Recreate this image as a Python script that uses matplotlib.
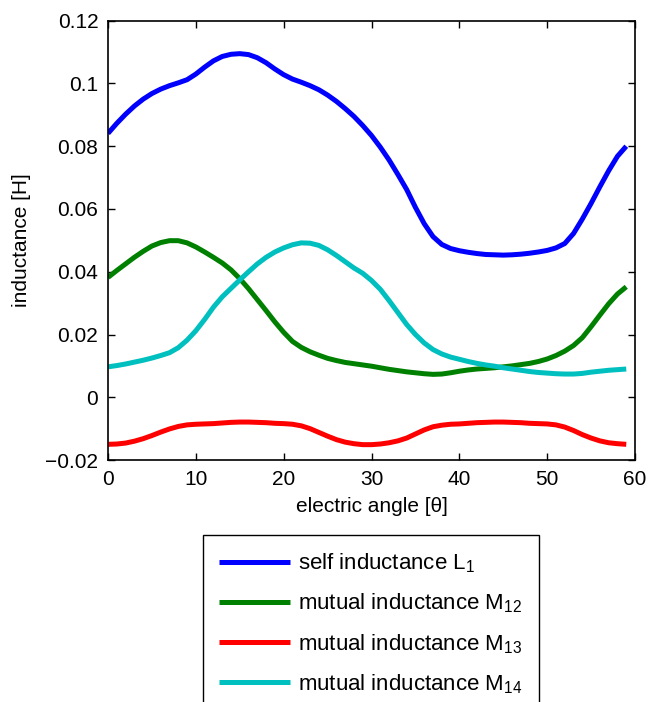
import matplotlib
matplotlib.use("Agg")
import matplotlib.pyplot as plt

plt.rcParams['font.family'] = ['Liberation Sans', 'DejaVu Sans']
plt.rcParams['mathtext.fontset'] = 'custom'
plt.rcParams['mathtext.rm'] = 'Liberation Sans'
plt.rcParams['mathtext.it'] = 'Liberation Sans'

angle = list(range(60))

L1 = [0.0841, 0.0873, 0.0902, 0.0928, 0.0950, 0.0968, 0.0982, 0.0993, 0.1002, 0.1012,
      0.1030, 0.1052, 0.1072, 0.1086, 0.1093, 0.1095, 0.1092, 0.1082, 0.1066, 0.1046,
      0.1028, 0.1014, 0.1004, 0.0993, 0.0980, 0.0963, 0.0943, 0.0920, 0.0895, 0.0866,
      0.0834, 0.0797, 0.0756, 0.0710, 0.0662, 0.0605, 0.0553, 0.0512, 0.0487, 0.0474,
      0.0467, 0.0462, 0.0458, 0.0455, 0.0454, 0.0453, 0.0454, 0.0456, 0.0459, 0.0463,
      0.0468, 0.0476, 0.0490, 0.0522, 0.0568, 0.0618, 0.0671, 0.0722, 0.0768, 0.0800]

M12 = [0.0382, 0.0404, 0.0425, 0.0446, 0.0465, 0.0482, 0.0493, 0.0499, 0.0499, 0.0492,
       0.0479, 0.0463, 0.0446, 0.0428, 0.0406, 0.0378, 0.0346, 0.0311, 0.0276, 0.0240,
       0.0207, 0.0178, 0.0159, 0.0145, 0.0134, 0.0124, 0.0117, 0.0111, 0.0107, 0.0103,
       0.0099, 0.0094, 0.0089, 0.0085, 0.0081, 0.0078, 0.0075, 0.0073, 0.0074, 0.0078,
       0.0083, 0.0087, 0.0090, 0.0092, 0.0094, 0.0097, 0.0100, 0.0104, 0.0108, 0.0114,
       0.0122, 0.0133, 0.0147, 0.0165, 0.0190, 0.0225, 0.0262, 0.0298, 0.0329, 0.0352]

M13 = [-0.0150, -0.0149, -0.0146, -0.0140, -0.0132, -0.0122, -0.0111, -0.0101, -0.0093, -0.0088,
       -0.0086, -0.0085, -0.0084, -0.0082, -0.0080, -0.0079, -0.0079, -0.0080, -0.0081, -0.0083,
       -0.0084, -0.0086, -0.0091, -0.0100, -0.0112, -0.0124, -0.0135, -0.0143, -0.0148, -0.0151,
       -0.0151, -0.0149, -0.0145, -0.0139, -0.0130, -0.0117, -0.0104, -0.0094, -0.0089, -0.0086,
       -0.0085, -0.0083, -0.0081, -0.0080, -0.0079, -0.0079, -0.0080, -0.0081, -0.0083, -0.0084,
       -0.0085, -0.0088, -0.0095, -0.0106, -0.0119, -0.0130, -0.0139, -0.0145, -0.0148, -0.0150]

M14 = [0.0097, 0.0101, 0.0106, 0.0112, 0.0118, 0.0125, 0.0133, 0.0142, 0.0158, 0.0182,
       0.0212, 0.0248, 0.0287, 0.0320, 0.0347, 0.0374, 0.0400, 0.0425, 0.0446, 0.0463,
       0.0476, 0.0486, 0.0492, 0.0491, 0.0484, 0.0470, 0.0452, 0.0432, 0.0412, 0.0395,
       0.0372, 0.0344, 0.0308, 0.0270, 0.0232, 0.0200, 0.0173, 0.0152, 0.0138, 0.0128,
       0.0121, 0.0114, 0.0108, 0.0103, 0.0099, 0.0094, 0.0090, 0.0086, 0.0082, 0.0079,
       0.0077, 0.0075, 0.0074, 0.0074, 0.0076, 0.0080, 0.0083, 0.0086, 0.0088, 0.0090]

labels = ['self inductance L$_1$', 'mutual inductance M$_{12}$',
          'mutual inductance M$_{13}$', 'mutual inductance M$_{14}$']
colors = ['#0000ff', '#008000', '#ff0000', '#00bfbf']

xticks = [0, 10, 20, 30, 40, 50, 60]
yticks = [-0.02, 0, 0.02, 0.04, 0.06, 0.08, 0.1, 0.12]
yticklabels = ['\u22120.02', '0', '0.02', '0.04', '0.06', '0.08', '0.1', '0.12']

fig = plt.figure(figsize=(6.48, 7.02), dpi=100)
ax = fig.add_axes([0.1667, 0.3447, 0.8133, 0.6258])

lines = []
for data, lab, c in zip([L1, M12, M13, M14], labels, colors):
    ln, = ax.plot(angle, data, color=c, lw=3.6, label=lab,
                  solid_joinstyle='round', solid_capstyle='butt')
    lines.append(ln)

ax.set_xlim(0, 60)
ax.set_ylim(-0.02, 0.12)
ax.set_xticks(xticks)
ax.set_yticks(yticks)
ax.set_yticklabels(yticklabels)
ax.tick_params(direction='in', length=5, width=1, top=True, right=True,
               labelsize=15, pad=7, colors='black')
for s in ax.spines.values():
    s.set_linewidth(1.2)

ax.set_xlabel('electric angle [\u03b8]', fontsize=15, labelpad=6)
ax.set_ylabel('inductance [H]', fontsize=15, labelpad=10)

leg = fig.legend(handles=lines, loc='upper left',
                 bbox_to_anchor=(0.3128, 0.2383), fontsize=16,
                 frameon=True, fancybox=False, framealpha=1,
                 edgecolor='black', handlelength=3.2, handletextpad=0.35,
                 labelspacing=0.75, borderpad=0.75, borderaxespad=0)
leg.get_frame().set_linewidth(1.0)

fig.savefig('out.png', dpi=100)
